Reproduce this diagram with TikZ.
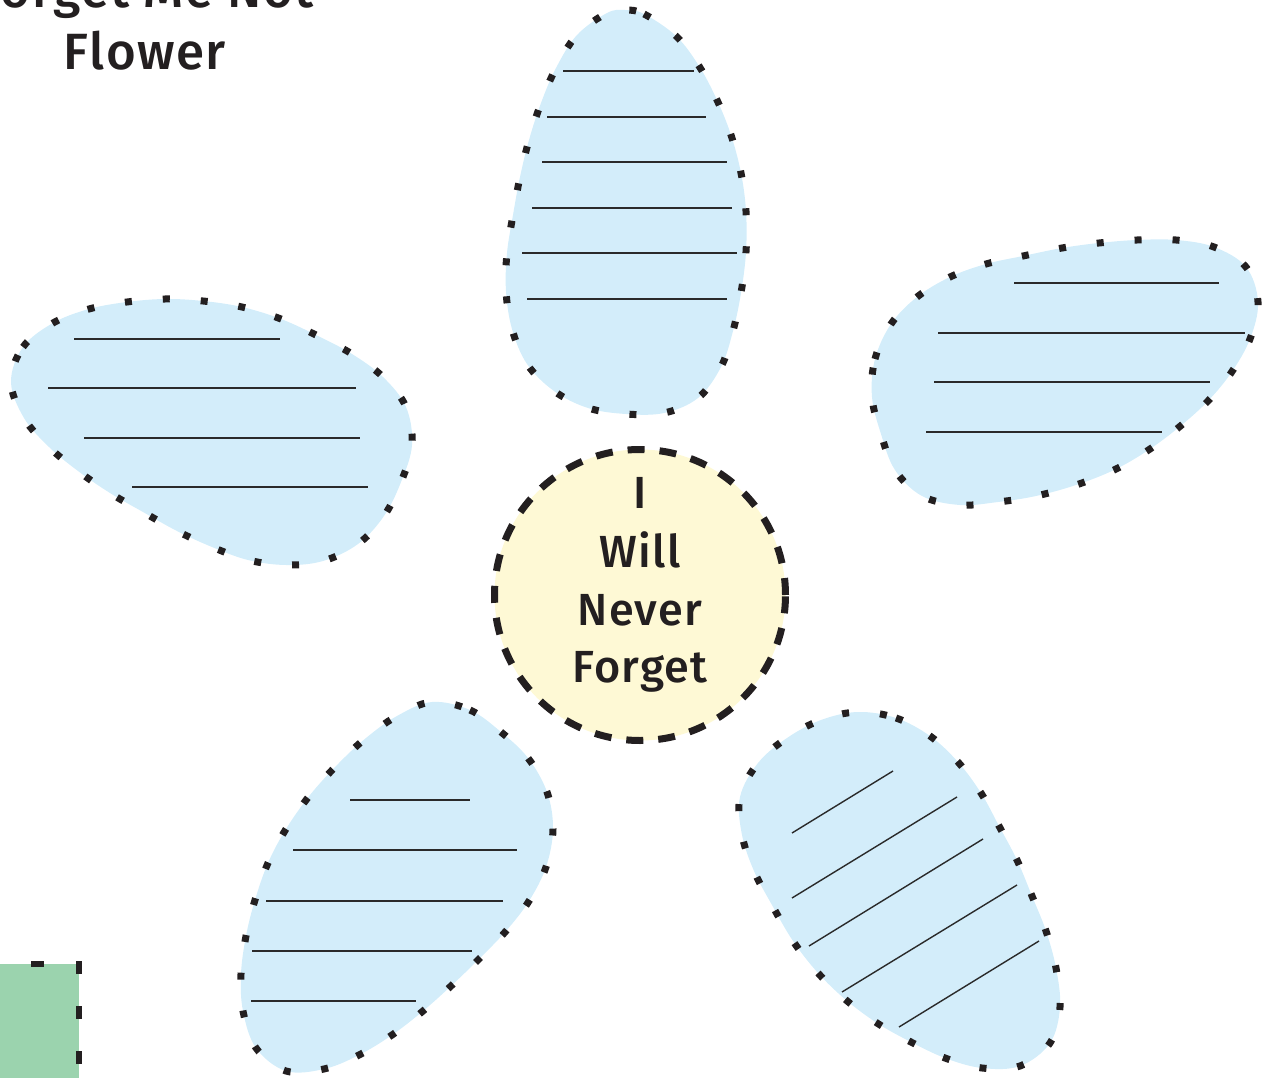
\documentclass[tikz,border=0pt]{standalone}
\usepackage{fontspec}
\IfFontExistsTF{FiraSans-Medium.otf}
  {\setmainfont{FiraSans-Medium.otf}[LetterSpace=3]}
  {\IfFontExistsTF{Fira Sans Medium}
     {\setmainfont{Fira Sans Medium}[LetterSpace=3]}
     {\setmainfont{Fira Sans}[LetterSpace=4,FakeBold=1]}}
\definecolor{petalblue}{HTML}{D3EDFA}
\definecolor{cream}{HTML}{FEF9D5}
\definecolor{ink}{HTML}{231F20}
\definecolor{ruleink}{HTML}{2A2A2A}
\definecolor{boxgreen}{HTML}{9BD3AE}
\begin{document}
\begin{tikzpicture}[x=1pt,y=-1pt,
  petal/.style={fill=petalblue, draw=ink, line width=7pt, dash pattern=on 7pt off 31pt},
  rule/.style={draw=ruleink, line width=1.4pt},
  ctext/.style={font=\fontsize{45}{54}\selectfont, text=ink, anchor=base, inner sep=0pt},
  ttext/.style={font=\fontsize{51}{60}\selectfont, text=ink, anchor=base, inner sep=0pt},
  boxedge/.style={draw=ink, line width=6pt, dash pattern=on 13pt off 32pt}
]
\useasboundingbox (0,0) rectangle (1267,1078);
\clip (0,0) rectangle (1267,1078);

% title
\node[ttext] (title1) at (145,8) {Forget Me Not};
\node[ttext] (title2) at (145,70) {Flower};

% top petal
\path[petal] plot[smooth cycle, tension=0.6] coordinates {
 (625,10) (644,14) (676,36) (699,66) (717,100) (731,135) (741,173) (746,211)
 (746,252) (741,293) (733,331) (721,367) (698,398) (664,413) (626,414) (588,408)
 (554,391) (527,364) (512,329) (506,291) (507,253) (513,215) (520,177) (529,140)
 (541,103) (556,68) (577,35) (607,13)};
\draw[rule] (563,71) -- (694,71);
\draw[rule] (547,117) -- (706,117);
\draw[rule] (542,162) -- (727,162);
\draw[rule] (532,208) -- (732,208);
\draw[rule] (522,253) -- (737,253);
\draw[rule] (527,299) -- (727,299);

% left petal
\path[petal] plot[smooth cycle, tension=0.6] coordinates {
 (11,382) (23,347) (53,323) (89,309) (127,302) (165,299) (203,301) (242,307)
 (281,319) (318,336) (352,354) (383,377) (406,407) (412,445) (401,482) (384,516)
 (358,544) (323,561) (286,565) (248,560) (212,547) (177,531) (143,512) (110,493)
 (78,471) (49,447) (24,418)};
\draw[rule] (74,339) -- (280,339);
\draw[rule] (48,388) -- (356,388);
\draw[rule] (84,438) -- (360,438);
\draw[rule] (132,487) -- (368,487);

% right petal
\path[petal] plot[smooth cycle, tension=0.6] coordinates {
 (872,397) (875,359) (891,324) (917,297) (950,277) (986,264) (1023,256) (1062,248)
 (1099,243) (1137,240) (1176,240) (1214,247) (1246,267) (1258,302) (1250,339)
 (1231,373) (1207,402) (1178,428) (1147,451) (1114,470) (1076,485) (1036,496)
 (998,502) (960,505) (922,496) (895,470) (881,434)};
\draw[rule] (1014,283) -- (1219,283);
\draw[rule] (938,333) -- (1245,333);
\draw[rule] (934,382) -- (1210,382);
\draw[rule] (926,432) -- (1162,432);

% bottom-left petal
\path[petal] plot[smooth cycle, tension=0.6] coordinates {
 (432,702) (470,710) (501,732) (528,758) (547,792) (553,829) (546,867) (529,901)
 (506,931) (479,959) (451,986) (423,1011) (392,1035) (359,1055) (324,1069)
 (286,1071) (256,1048) (243,1011) (241,974) (246,936) (255,900) (268,863)
 (286,829) (310,795) (338,764) (366,738) (397,716)};
\draw[rule] (350,800) -- (470,800);
\draw[rule] (293,850) -- (517,850);
\draw[rule] (266,901) -- (503,901);
\draw[rule] (252,951) -- (472,951);
\draw[rule] (251,1001) -- (416,1001);

% bottom-right petal
\path[petal] plot[smooth cycle, tension=0.6] coordinates {
 (858,712) (896,718) (930,736) (958,762) (981,793) (999,826) (1017,860) (1032,896)
 (1046,931) (1056,968) (1060,1007) (1050,1043) (1020,1066) (982,1068) (945,1058)
 (909,1041) (877,1023) (846,1000) (818,973) (793,941) (772,905) (754,871)
 (742,835) (740,797) (758,763) (787,738) (821,720)};
\draw[rule] (792,833) -- (893,771);
\draw[rule] (792,898) -- (957,797);
\draw[rule] (809,946) -- (983,839);
\draw[rule] (842,992) -- (1017,885);
\draw[rule] (899,1027) -- (1039,941);

% centre
\node[circle, minimum size=291pt, inner sep=0pt, fill=cream, draw=ink, line width=7pt,
      dash pattern=on 17pt off 15pt] (ctr) at (640,595) {};
\node[ctext] (w1) at (640,508) {I};
\node[ctext] (w2) at (640,567) {Will};
\node[ctext] (w3) at (640,625) {Never};
\node[ctext] (w4) at (640,682) {Forget};

% green box corner
\fill[boxgreen] (-20,964) rectangle (79,1100);
\draw[boxedge] (-14,964) -- (79,964);
\draw[boxedge] (79,961) -- (79,1100);
\end{tikzpicture}
\end{document}
